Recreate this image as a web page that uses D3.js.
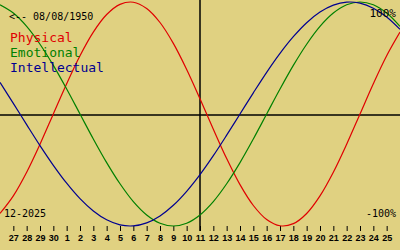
<!DOCTYPE html>
<html><head><meta charset="utf-8">
<script src="https://cdn.jsdelivr.net/npm/d3@7"></script>
<style>
html,body{margin:0;padding:0;background:#e0d181;}
svg{display:block;}
</style></head>
<body>
<script>
// Day offsets 0..30 correspond to Nov 26 .. Dec 26 (2025)
const tickLabels = ["27","28","29","30","1","2","3","4","5","6","7","8","9","10","11","12","13","14","15","16","17","18","19","20","21","22","23","24","25"];
const physical = [-0.888,-0.731,-0.520,-0.270,0,0.270,0.520,0.731,0.888,0.979,0.998,0.942,0.817,0.631,0.398,0.136,-0.136,-0.398,-0.631,-0.817,-0.942,-0.998,-0.979,-0.888,-0.731,-0.520,-0.270,0,0.270,0.520,0.731];
const emotional = [0.975,0.901,0.782,0.623,0.434,0.223,0,-0.223,-0.434,-0.623,-0.782,-0.901,-0.975,-1,-0.975,-0.901,-0.782,-0.623,-0.434,-0.223,0,0.223,0.434,0.623,0.782,0.901,0.975,1,0.975,0.901,0.782];
const intellectual = [0.282,0.095,-0.095,-0.282,-0.458,-0.618,-0.756,-0.866,-0.945,-0.990,-0.999,-0.972,-0.910,-0.815,-0.690,-0.541,-0.372,-0.189,0,0.189,0.372,0.541,0.690,0.815,0.910,0.972,0.999,0.990,0.945,0.866,0.756];
const seriesNames = ["Physical","Emotional","Intellectual"];
const seriesColors = ["#e00000","#008000","#000090"];
const todayIndex = 15; // Dec 11
const birthLabel = "<-- 08/08/1950";
const monthLabel = "12-2025";

const W = 400, H = 250;
const svg = d3.select("body").append("svg").attr("width", W).attr("height", H);
svg.append("rect").attr("width", W).attr("height", H).attr("fill", "#e0d181");

const x = d3.scaleLinear().domain([0, 30]).range([0, 400]);
const y = d3.scaleLinear().domain([-1, 1]).range([226, 2]);

// axes lines
svg.append("line").attr("x1", 0).attr("x2", W).attr("y1", y(0)+1).attr("y2", y(0)+1)
  .attr("stroke", "#000").attr("stroke-width", 1.5);
svg.append("line").attr("x1", x(todayIndex)).attr("x2", x(todayIndex)).attr("y1", 0).attr("y2", 231)
  .attr("stroke", "#000").attr("stroke-width", 1.5);

// day ticks
const ax = d3.axisBottom(x).tickValues(d3.range(1, 30)).tickSize(5).tickPadding(4)
  .tickFormat((d) => tickLabels[d - 1]);
const g = svg.append("g").attr("transform", "translate(0,226)").call(ax);
g.select(".domain").remove();
g.selectAll(".tick line").attr("stroke", "#000").attr("stroke-width", 1);
g.selectAll(".tick text").attr("fill", "#000").style("font-family", "'Liberation Sans', Arial, sans-serif")
  .style("font-size", "9px").style("font-weight", "bold");

// curves
const data = [physical, emotional, intellectual];
const line = d3.line().x((d, i) => x(i)).y(d => y(d)).curve(d3.curveCatmullRom);
data.forEach((s, i) => {
  svg.append("path").attr("d", line(s)).attr("fill", "none")
    .attr("stroke", seriesColors[i]).attr("stroke-width", 1.2);
});

// texts
const mono = "'DejaVu Sans Mono', monospace";
svg.append("text").attr("x", 9).attr("y", 20).text(birthLabel)
  .style("font-family", mono).style("font-size", "10px").attr("fill", "#000");
seriesNames.forEach((n, i) => {
  svg.append("text").attr("x", 10).attr("y", 42 + i * 15).text(n)
    .style("font-family", mono).style("font-size", "13px").attr("fill", seriesColors[i]);
});
svg.append("text").attr("x", 396).attr("y", 17).attr("text-anchor", "end").text("100%")
  .style("font-family", mono).style("font-size", "11px").attr("fill", "#000");
svg.append("text").attr("x", 396).attr("y", 217).attr("text-anchor", "end").text("-100%")
  .style("font-family", mono).style("font-size", "10px").attr("fill", "#000");
svg.append("text").attr("x", 4).attr("y", 217).text(monthLabel)
  .style("font-family", mono).style("font-size", "10px").attr("fill", "#000");
</script>
</body></html>
